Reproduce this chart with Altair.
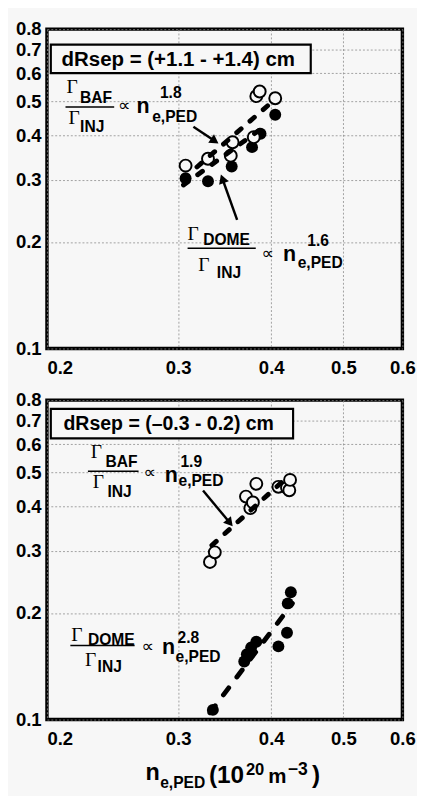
import altair as alt
import pandas as pd

BG = "#f7f7f7"
SANS = "Liberation Sans"
SERIF = "Liberation Serif"
SYM = "DejaVu Sans"

# ---------------- data ----------------
# top panel: dRsep = (+1.1 - +1.4) cm
top_baf_x = [0.307, 0.329, 0.355, 0.353, 0.379, 0.382, 0.386, 0.405]
top_baf_y = [0.329, 0.344, 0.383, 0.351, 0.396, 0.517, 0.533, 0.510]
top_dome_x = [0.307, 0.329, 0.354, 0.377, 0.387, 0.405]
top_dome_y = [0.303, 0.297, 0.327, 0.371, 0.405, 0.458]
top_baf_fit_x = [0.318, 0.405]
top_baf_fit_y = [0.326, 0.507]
top_dome_fit_x = [0.305, 0.395]
top_dome_fit_y = [0.290, 0.430]

# bottom panel: dRsep = (-0.3 - 0.2) cm
bot_baf_x = [0.331, 0.336, 0.370, 0.375, 0.378, 0.382, 0.409, 0.420, 0.423, 0.424]
bot_baf_y = [0.279, 0.297, 0.427, 0.396, 0.411, 0.464, 0.455, 0.452, 0.445, 0.476]
bot_dome_x = [0.334, 0.368, 0.371, 0.376, 0.382, 0.409, 0.420, 0.421, 0.425]
bot_dome_y = [0.1065, 0.146, 0.153, 0.160, 0.166, 0.161, 0.176, 0.213, 0.229]
bot_baf_fit_x = [0.333, 0.423]
bot_baf_fit_y = [0.311, 0.490]
bot_dome_fit_x = [0.331, 0.427]
bot_dome_fit_y = [0.1045, 0.213]

X_TICKS = [0.2, 0.3, 0.4, 0.5, 0.6]
Y_TICKS = [0.1, 0.2, 0.3, 0.4, 0.5, 0.6, 0.7, 0.8]

top_box = [0.2024, 0.452, 0.601, 0.723]
bot_box = [0.2024, 0.428, 0.624, 0.756]
top_label = "dRsep = (+1.1 - +1.4) cm"
bot_label = "dRsep = (\u20130.3 - 0.2) cm"

W, H = 365, 328

xscale = alt.Scale(type="log", domain=[0.2, 0.6], nice=False)
yscale = alt.Scale(type="log", domain=[0.1, 0.8], nice=False)

common_axis = dict(
    title=None, grid=True, ticks=False, domain=False, labelOverlap=False,
    labelFont=SANS, labelFontSize=19, labelFontWeight="bold", labelColor="black",
    gridColor="#8a8a8a", gridDash=[2, 2], gridWidth=0.8, format=".1f",
)
xaxis = alt.Axis(values=X_TICKS, labelPadding=11,
                 labelAlign={"condition": {"test": "datum.value < 0.25", "value": "left"}, "value": "center"},
                 **common_axis)
yaxis = alt.Axis(values=Y_TICKS, labelPadding=6, labelBaseline="middle", **common_axis)


def X(f):
    return alt.X(f, type="quantitative", scale=xscale, axis=xaxis)


def Y(f):
    return alt.Y(f, type="quantitative", scale=yscale, axis=yaxis)


def one(x, y):
    return pd.DataFrame({"x": [x], "y": [y]})


def formula(ax, ay, bar_w, pieces):
    layers = []
    d = one(ax, ay)
    layers.append(alt.Chart(d).mark_rule(color="black", strokeWidth=1.6, x2Offset=bar_w)
                  .encode(x=X("x"), x2=alt.X2("x"), y=Y("y")))
    for text, dx, dy, font, size, weight in pieces:
        layers.append(alt.Chart(d).mark_text(text=text, align="left", baseline="alphabetic",
                                             dx=dx, dy=dy, font=font, fontSize=size,
                                             fontWeight=weight, color="black")
                      .encode(x=X("x"), y=Y("y")))
    return layers


def frac_pieces(sub_top, sub_bot, power, p):
    return [
        ("\u0393", p[0][0], p[0][1], SERIF, 20, "normal"),
        (sub_top, p[1][0], p[1][1], SANS, 16, "bold"),
        ("\u0393", p[2][0], p[2][1], SERIF, 20, "normal"),
        (sub_bot, p[3][0], p[3][1], SANS, 16, "bold"),
        ("\u221d", p[4][0], p[4][1], SYM, 18, "normal"),
        ("n", p[5][0], p[5][1], SANS, 22, "bold"),
        (power, p[6][0], p[6][1], SANS, 16, "bold"),
        ("e,PED", p[7][0], p[7][1], SANS, 16, "bold"),
    ]


def arrow(x1, y1, x2, y2, ang):
    d = pd.DataFrame({"x": [x1], "y": [y1], "x2": [x2], "y2": [y2]})
    r = alt.Chart(d).mark_rule(color="black", strokeWidth=2.5).encode(
        x=X("x"), y=Y("y"), x2=alt.X2("x2"), y2=alt.Y2("y2"))
    h = alt.Chart(pd.DataFrame({"x": [x2], "y": [y2]})).mark_point(
        shape="triangle-up", filled=True, color="black", size=110, angle=ang, opacity=1).encode(
        x=X("x"), y=Y("y"))
    return [r, h]


def panel(ox, oy, fx, fy, fits, box, label, label_size, label_dx, formulas, arrows, title=False):
    layers = []
    bdf = pd.DataFrame({"x": [box[0]], "x2": [box[1]], "y": [box[2]], "y2": [box[3]]})
    layers.append(alt.Chart(bdf).mark_rect(fill=BG, stroke="black", strokeWidth=2.2).encode(
        x=X("x"), x2=alt.X2("x2"), y=Y("y"), y2=alt.Y2("y2")))
    ly = (box[2] * box[3]) ** 0.5
    layers.append(alt.Chart(one(box[0], ly)).mark_text(
        text=label, align="left", baseline="middle", dx=label_dx, dy=1, font=SANS,
        fontSize=label_size, fontWeight="bold", color="black").encode(x=X("x"), y=Y("y")))

    layers.append(alt.Chart(pd.DataFrame({"x": fx, "y": fy})).mark_point(
        shape="circle", filled=True, color="black", size=150, opacity=1).encode(x=X("x"), y=Y("y")))
    layers.append(alt.Chart(pd.DataFrame({"x": ox, "y": oy})).mark_point(
        shape="circle", filled=True, fill=BG, stroke="black", strokeWidth=2, size=150, opacity=1)
        .encode(x=X("x"), y=Y("y")))
    for (lx, lyy, dash) in fits:
        layers.append(alt.Chart(pd.DataFrame({"x": lx, "y": lyy})).mark_line(
            color="black", strokeWidth=5, strokeDash=dash, strokeCap="round").encode(x=X("x"), y=Y("y")))
    for f in formulas:
        layers += formula(*f)
    for a in arrows:
        layers += arrow(*a)
    if title:
        tx = 0.2713
        tpieces = [
            ("n", 0, 62, 24), ("e,PED", 15, 70, 16), ("(10", 65, 65, 25),
            ("20", 103, 57, 17), ("m", 126, 65, 21), ("\u22123", 146, 57, 18), (")", 171, 65, 25),
        ]
        for text, dx, dy, size in tpieces:
            layers.append(alt.Chart(pd.DataFrame({"x": [tx]})).mark_text(
                text=text, align="left", baseline="alphabetic", dx=dx, dy=dy, font=SANS,
                fontSize=size, fontWeight="bold", color="black").encode(x=X("x"), y=alt.value(H)))
    return alt.layer(*layers).properties(width=W, height=H)


top_formulas = [
    (0.2118, 0.482, 50, frac_pieces("BAF", "INJ", "1.8",
                                    [(1, -14), (15, -4), (3, 17), (15, 26), (54, 4), (73, 6), (97, -9), (89, 15)])),
    (0.3089, 0.1921, 70, frac_pieces("DOME", "INJ", "1.6",
                                     [(0, -8), (16, -3), (11, 23), (30, 31), (76, 11), (98, 13), (123, -2), (113, 20)])),
]
bot_formulas = [
    (0.2270, 0.5035, 52, frac_pieces("BAF", "INJ", "1.9",
                                     [(3, -14), (18, -4), (5, 17), (20, 26), (57, 7), (79, 11), (95, -4), (93, 15)])),
    (0.2150, 0.1619, 66, frac_pieces("DOME", "INJ", "2.8",
                                     [(1, -5), (18, -1), (15, 21), (28, 27), (73, 7), (94, 9), (110, -3), (108, 17)])),
]
top_arrows = [
    (0.3145, 0.424, 0.336, 0.386, 124),
    (0.360, 0.231, 0.344, 0.302, 340),
]
bot_arrows = [
    (0.324, 0.444, 0.352, 0.360, 140),
]

top = panel(top_baf_x, top_baf_y, top_dome_x, top_dome_y,
            [(top_baf_fit_x, top_baf_fit_y, [6, 12]), (top_dome_fit_x, top_dome_fit_y, [6, 12])],
            top_box, top_label, 21, 11, top_formulas, top_arrows)
bottom = panel(bot_baf_x, bot_baf_y, bot_dome_x, bot_dome_y,
               [(bot_baf_fit_x, bot_baf_fit_y, [6, 12]), (bot_dome_fit_x, bot_dome_fit_y, [9, 14])],
               bot_box, bot_label, 20, 13, bot_formulas, bot_arrows, title=True)

chart = alt.vconcat(top, bottom, spacing=10).properties(
    background=BG, padding={"left": 5, "top": 0, "right": 0, "bottom": 0}
).configure_view(stroke="black", strokeWidth=3.5)

chart.save("out.html", embed_options={"renderer": "svg", "actions": False})
